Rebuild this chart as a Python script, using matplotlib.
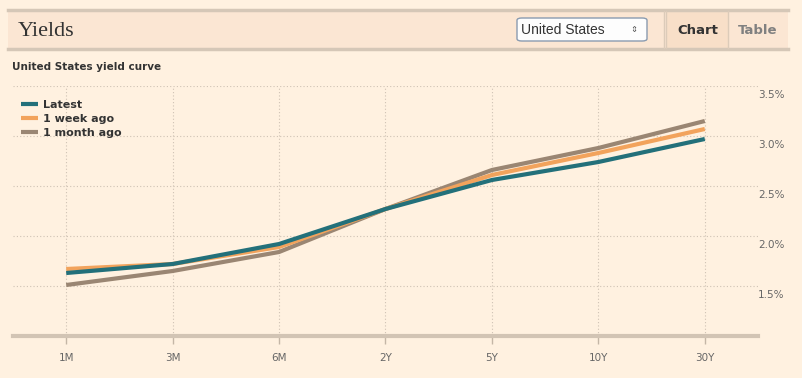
import matplotlib.pyplot as plt
import matplotlib.transforms as mtransforms
from matplotlib.patches import Rectangle, FancyBboxPatch

# data
tenors = ['1M', '3M', '6M', '2Y', '5Y', '10Y', '30Y']
latest = [1.63, 1.72, 1.92, 2.27, 2.56, 2.74, 2.97]
week_ago = [1.67, 1.72, 1.89, 2.27, 2.61, 2.83, 3.07]
month_ago = [1.51, 1.65, 1.84, 2.27, 2.66, 2.88, 3.15]
yticks = [1.5, 2.0, 2.5, 3.0, 3.5]

bg = '#fff1e0'
grid_col = '#cfc2b4'
W, H = 803, 378

fig = plt.figure(figsize=(W / 100, H / 100), dpi=100, facecolor=bg)

def px(x, y):
    # pixel position (top-left origin) -> figure fraction
    return x / W, 1 - y / H

# header band
fig.patches.append(Rectangle(px(8, 49), 780 / W, 39 / H, transform=fig.transFigure,
                             facecolor='#fbe6d3', edgecolor='none'))
for yy in (10, 49):
    fig.add_artist(plt.Line2D([8 / W, 788 / W], [1 - yy / H] * 2, color='#d5c7b7', lw=2.5))
fig.text(*px(18, 31), 'Yields', family='Liberation Serif', fontsize=16, color='#333333', va='center')

# dropdown
fig.patches.append(FancyBboxPatch(px(517, 41), 130 / W, 23 / H, transform=fig.transFigure,
                                  boxstyle='round,pad=0,rounding_size=0.006',
                                  facecolor='#fdfdfd', edgecolor='#8a9bb0', lw=1))
fig.text(*px(521, 30), 'United States', fontsize=10, color='#333333', va='center', family='Liberation Sans')
fig.text(*px(634, 30), '⇕', fontsize=6, color='#555555', va='center', ha='center')

# Chart / Table buttons
fig.patches.append(Rectangle(px(667, 48), 61 / W, 37 / H, transform=fig.transFigure,
                             facecolor='#f8dfc8', edgecolor='none'))
for xx in (664, 666.5, 728):
    fig.add_artist(plt.Line2D([xx / W] * 2, [1 - 11 / H, 1 - 48 / H], color='#dccbb9', lw=1))
fig.text(*px(698, 31), 'Chart', fontsize=9.5, weight='bold', color='#333333', va='center', ha='center')
fig.text(*px(758, 31), 'Table', fontsize=9.5, weight='bold', color='#808080', va='center', ha='center')

fig.text(*px(12, 67), 'United States yield curve', fontsize=7.5, weight='bold', color='#333333', va='center')

# chart axes
ax = fig.add_axes([13 / W, 42 / H, 745 / W, 250 / H])
ax.set_facecolor(bg)
x = range(len(tenors))
ax.plot(x, month_ago, color='#9a8673', lw=3, solid_capstyle='butt', label='1 month ago', zorder=3)
ax.plot(x, week_ago, color='#f2a35c', lw=3, solid_capstyle='butt', label='1 week ago', zorder=4)
ax.plot(x, latest, color='#23707a', lw=3, solid_capstyle='butt', label='Latest', zorder=5)

ax.set_xlim(-0.5, 6.5)
ax.set_ylim(1.0, 3.5)
for v in yticks:
    ax.axhline(v, color=grid_col, lw=0.8, ls=(0, (1, 2)), zorder=1)
for i in x:
    ax.axvline(i, color=grid_col, lw=0.8, ls=(0, (1, 2)), zorder=1)

for s in ['top', 'right', 'left']:
    ax.spines[s].set_visible(False)
ax.spines['bottom'].set_color('#d2c4b4')
ax.spines['bottom'].set_linewidth(3)
ax.set_yticks([])
ax.set_xticks(list(x))
ax.set_xticklabels(tenors)
ax.tick_params(axis='x', length=6, width=1, color='#c4b6a6', labelsize=7.5, labelcolor='#666666', pad=6)

trans = mtransforms.offset_copy(ax.get_yaxis_transform(), fig=fig, x=0, y=-9, units='dots')
for v in yticks:
    ax.text(1.0, v, f'{v:.1f}%', transform=trans, fontsize=7.5, color='#666666', va='center', ha='left')

handles, labels = ax.get_legend_handles_labels()
leg = ax.legend(handles[::-1], labels[::-1], loc='upper left', frameon=False, fontsize=8,
                handlelength=1.5, handletextpad=0.5, labelspacing=0.35, borderaxespad=0,
                borderpad=0)
leg.set_bbox_to_anchor(px(21, 100), transform=fig.transFigure)
for t in leg.get_texts():
    t.set_weight('bold')
    t.set_color('#333333')

fig.savefig('out.png', dpi=100, facecolor=bg)
